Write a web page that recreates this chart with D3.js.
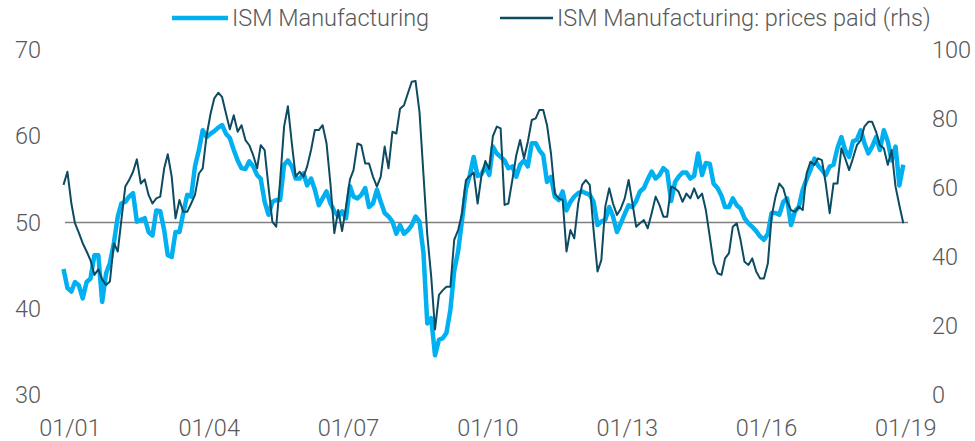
<!DOCTYPE html>
<html>
<head>
<meta charset="utf-8">
<script src="https://cdn.jsdelivr.net/npm/d3@7"></script>
<style>
  body { margin: 0; background: #ffffff; }
  svg text { font-family: Roboto, "Liberation Sans", sans-serif; font-weight: 300; fill: #595959; }
</style>
</head>
<body>
<div id="chart"></div>
<script>
// monthly series, first point Dec 2000, last point Jan 2019
const firstMonth = new Date(2000, 11, 1);

const ismValues = [
  44.6,
  42.4, 42.0, 43.1, 42.7, 41.2, 43.1, 43.5, 46.2, 46.2, 40.8, 44.1, 45.3, // 2001
  47.6, 50.7, 52.2, 52.4, 53.0, 53.4, 50.1, 50.3, 50.5, 48.9, 48.5, 51.4, // 2002
  51.3, 49.1, 46.2, 46.0, 48.9, 48.9, 51.1, 53.2, 53.0, 56.5, 58.4, 60.7, // 2003
  59.9, 60.3, 60.6, 61.0, 61.3, 60.3, 59.8, 58.4, 57.2, 56.3, 56.2, 57.1, // 2004
  56.5, 55.5, 55.1, 52.4, 50.9, 52.4, 52.6, 52.6, 56.7, 57.2, 56.5, 55.1, // 2005
  55.1, 55.7, 54.3, 55.1, 53.8, 52.0, 52.8, 53.6, 52.2, 51.3, 50.7, 51.3, // 2006
  50.5, 54.2, 53.0, 52.8, 53.2, 54.0, 51.8, 52.2, 53.8, 52.4, 51.1, 50.7, // 2007
  50.1, 48.7, 49.7, 48.7, 49.1, 49.7, 50.7, 50.1, 46.5, 38.3, 38.9, 34.6, // 2008
  36.4, 36.6, 37.2, 39.9, 44.4, 46.7, 50.2, 53.9, 55.5, 57.6, 55.4, 55.6, // 2009
  56.5, 55.5, 58.8, 58.0, 57.6, 57.2, 56.3, 56.5, 55.3, 56.7, 57.2, 56.5, // 2010
  59.2, 59.2, 58.4, 57.8, 54.7, 55.3, 53.0, 52.6, 53.6, 51.4, 52.4, 53.0, // 2011
  53.4, 53.6, 53.4, 53.2, 52.4, 49.7, 50.1, 50.3, 51.8, 50.7, 48.9, 49.9, // 2012
  51.0, 52.0, 51.8, 52.5, 53.6, 54.0, 55.0, 55.9, 55.1, 55.5, 56.3, 55.9, // 2013
  52.5, 54.7, 55.3, 55.8, 55.8, 55.1, 55.4, 58.0, 55.5, 56.9, 56.8, 54.5, // 2014
  54.0, 53.1, 51.8, 51.8, 52.8, 52.0, 51.6, 50.5, 49.9, 49.5, 49.0, 48.4, // 2015
  48.0, 48.7, 51.1, 51.1, 50.9, 52.4, 52.8, 49.7, 51.3, 51.8, 53.8, 55.0, // 2016
  56.1, 57.4, 56.6, 56.1, 55.5, 56.5, 56.7, 58.6, 59.9, 58.4, 57.6, 59.4, // 2017
  59.6, 60.7, 59.2, 58.0, 58.8, 59.9, 58.4, 60.7, 59.4, 57.2, 58.8, 54.3, // 2018
  56.7                                                                    // 2019
];

const pricesPaid = [
  60.9,
  64.7, 55.5, 49.8, 47.0, 44.0, 41.6, 39.1, 34.8, 36.4, 33.5, 31.9, 32.9, // 2001
  44.0, 41.6, 50.7, 60.4, 62.3, 64.7, 68.3, 61.3, 62.5, 58.0, 55.5, 57.0, // 2002
  57.5, 65.7, 69.8, 63.3, 51.2, 56.5, 53.1, 53.1, 55.5, 58.0, 64.2, 65.7, // 2003
  75.3, 81.6, 86.0, 87.6, 86.4, 81.6, 77.0, 81.1, 76.3, 78.2, 73.9, 72.4, // 2004
  69.5, 65.7, 72.4, 71.0, 60.4, 50.2, 48.8, 62.3, 77.8, 83.7, 72.9, 63.3, // 2005
  64.7, 63.3, 66.2, 71.0, 76.8, 76.8, 78.2, 72.9, 61.0, 46.9, 53.6, 47.5, // 2006
  54.5, 62.5, 65.2, 72.9, 72.4, 67.1, 67.1, 63.3, 60.4, 63.3, 72.0, 65.7, // 2007
  76.3, 75.8, 83.0, 84.0, 87.4, 90.8, 91.0, 82.0, 64.0, 46.5, 34.3, 19.0, // 2008
  29.0, 30.4, 31.4, 31.4, 45.0, 47.8, 52.5, 62.3, 63.5, 64.5, 55.5, 63.5, // 2009
  67.8, 65.5, 75.0, 77.8, 77.3, 55.1, 55.5, 62.3, 69.5, 73.9, 68.6, 73.4, // 2010
  79.7, 80.2, 82.6, 82.6, 78.2, 70.0, 58.4, 57.0, 56.5, 41.6, 47.8, 45.4, // 2011
  55.5, 60.9, 62.3, 60.9, 47.8, 35.8, 39.1, 54.6, 59.9, 55.5, 52.2, 54.0, // 2012
  57.0, 62.3, 56.0, 48.8, 49.8, 50.7, 48.3, 52.7, 57.5, 55.1, 51.7, 51.7, // 2013
  60.4, 59.9, 58.9, 56.0, 58.4, 57.0, 59.9, 57.0, 58.4, 53.6, 45.9, 38.2, // 2014
  35.3, 34.8, 39.6, 41.1, 48.8, 49.8, 44.9, 38.6, 37.7, 39.6, 35.8, 33.8, // 2015
  33.8, 38.2, 51.7, 57.5, 61.3, 59.9, 56.0, 53.6, 53.1, 54.6, 53.6, 64.2, // 2016
  67.6, 66.7, 68.6, 68.1, 61.3, 52.7, 61.3, 61.3, 71.5, 68.6, 65.2, 68.6, // 2017
  72.4, 73.9, 77.8, 79.2, 79.2, 76.3, 72.4, 71.5, 66.7, 71.0, 60.4, 55.0, // 2018
  49.8                                                                    // 2019
];

const leftTicks = [30, 40, 50, 60, 70];
const rightTicks = [0, 20, 40, 60, 80, 100];
const xTickYears = [2001, 2004, 2007, 2010, 2013, 2016, 2019];
const seriesNames = ["ISM Manufacturing", "ISM Manufacturing: prices paid (rhs)"];

const width = 975, height = 441;
const lightBlue = "#00b0f0", darkTeal = "#0d4b62";

const months = ismValues.map((d, i) => d3.timeMonth.offset(firstMonth, i));

const svg = d3.select("#chart").append("svg")
  .attr("width", width)
  .attr("height", height);

const x = d3.scaleTime()
  .domain([months[0], months[months.length - 1]])
  .range([63.5, 903.3]);
const yLeft = d3.scaleLinear().domain([30, 70]).range([395, 50]);
const yRight = d3.scaleLinear().domain([0, 100]).range([395, 50]);

// axes (labels only)
const leftAxis = svg.append("g")
  .attr("transform", "translate(41,0)")
  .call(d3.axisLeft(yLeft).tickValues(leftTicks).tickSize(0).tickPadding(0));
const rightAxis = svg.append("g")
  .attr("transform", "translate(932,0)")
  .call(d3.axisRight(yRight).tickValues(rightTicks).tickSize(0).tickPadding(0));
const bottomAxis = svg.append("g")
  .attr("transform", "translate(2,419)")
  .call(d3.axisBottom(x)
    .tickValues(xTickYears.map(y => new Date(y, 0, 1)))
    .tickFormat(d3.timeFormat("%m/%y"))
    .tickSize(0).tickPadding(0));

[leftAxis, rightAxis, bottomAxis].forEach(g => {
  g.select(".domain").remove();
  g.selectAll("text")
    .attr("font-family", null)
    .style("font-size", "23.5px");
});

// reference line at 50
svg.append("line")
  .attr("x1", 65).attr("x2", 908)
  .attr("y1", yLeft(50)).attr("y2", yLeft(50))
  .attr("stroke", "#7f7f7f")
  .attr("stroke-width", 1.6);

const ismLine = d3.line()
  .x((d, i) => x(months[i]))
  .y(d => yLeft(d));
const pricesLine = d3.line()
  .x((d, i) => x(months[i]))
  .y(d => yRight(d));

svg.append("path")
  .datum(ismValues)
  .attr("fill", "none")
  .attr("stroke", lightBlue)
  .attr("stroke-width", 4.5)
  .attr("stroke-linejoin", "round")
  .attr("d", ismLine);

svg.append("path")
  .datum(pricesPaid)
  .attr("fill", "none")
  .attr("stroke", darkTeal)
  .attr("stroke-width", 2)
  .attr("stroke-linejoin", "round")
  .attr("d", pricesLine);

// legend
const legend = svg.append("g");
const legendItems = [
  { name: seriesNames[0], color: lightBlue, width: 4.5, x1: 172, x2: 228 },
  { name: seriesNames[1], color: darkTeal, width: 2.5, x1: 500, x2: 553 }
];
legendItems.forEach(item => {
  legend.append("line")
    .attr("x1", item.x1).attr("x2", item.x2)
    .attr("y1", 18).attr("y2", 18)
    .attr("stroke", item.color)
    .attr("stroke-width", item.width);
  legend.append("text")
    .attr("x", item.x2 + 4)
    .attr("y", 18)
    .attr("dy", "0.35em")
    .style("font-size", "23.5px")
    .text(item.name);
});
</script>
</body>
</html>
